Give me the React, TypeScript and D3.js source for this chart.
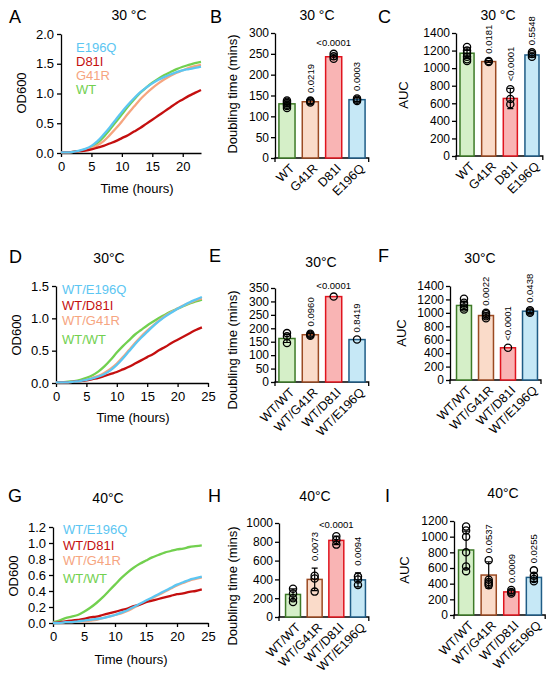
import React, { useEffect, useRef } from 'react';
import * as d3 from 'd3';

const FONT = "'Liberation Sans', Arial, sans-serif";

// ---- growth curves: OD600 read every hour ----
const hoursA = [0, 1, 2, 3, 4, 5, 6, 7, 8, 9, 10, 11, 12, 13, 14, 15, 16, 17, 18, 19, 20, 21, 22, 23];
const hoursDG = [0, 1, 2, 3, 4, 5, 6, 7, 8, 9, 10, 11, 12, 13, 14, 15, 16, 17, 18, 19, 20, 21, 22, 23, 24];

const namesA = ['E196Q', 'D81I', 'G41R', 'WT'];
const namesHet = ['WT/E196Q', 'WT/D81I', 'WT/G41R', 'WT/WT'];
const lineColors = ['#5cc6f2', '#c40f0f', '#f6a57f', '#72d04f'];

const odA_E196Q = [0.01, 0.01, 0.02, 0.04, 0.07, 0.12, 0.2, 0.31, 0.43, 0.56, 0.69, 0.81, 0.92, 1.02, 1.1, 1.17, 1.23, 1.28, 1.32, 1.36, 1.39, 1.41, 1.43, 1.45];
const odA_D81I = [0.01, 0.01, 0.02, 0.03, 0.04, 0.06, 0.09, 0.12, 0.16, 0.2, 0.25, 0.3, 0.36, 0.42, 0.49, 0.56, 0.63, 0.7, 0.77, 0.84, 0.9, 0.96, 1.01, 1.06];
const odA_G41R = [0.01, 0.01, 0.02, 0.03, 0.05, 0.08, 0.13, 0.2, 0.3, 0.41, 0.53, 0.66, 0.78, 0.9, 1.0, 1.09, 1.17, 1.24, 1.3, 1.35, 1.39, 1.43, 1.46, 1.48];
const odA_WT = [0.01, 0.01, 0.02, 0.03, 0.06, 0.1, 0.17, 0.27, 0.39, 0.52, 0.65, 0.78, 0.9, 1.01, 1.1, 1.18, 1.25, 1.31, 1.36, 1.41, 1.45, 1.48, 1.51, 1.53];

const odD_E196Q = [0.01, 0.01, 0.01, 0.02, 0.03, 0.05, 0.07, 0.1, 0.14, 0.2, 0.28, 0.38, 0.49, 0.6, 0.7, 0.79, 0.88, 0.96, 1.03, 1.09, 1.15, 1.2, 1.25, 1.29, 1.33];
const odD_D81I = [0.01, 0.01, 0.01, 0.02, 0.03, 0.04, 0.06, 0.08, 0.11, 0.14, 0.17, 0.21, 0.25, 0.3, 0.35, 0.4, 0.45, 0.51, 0.56, 0.62, 0.67, 0.72, 0.77, 0.82, 0.86];
const odD_G41R = [0.01, 0.01, 0.01, 0.02, 0.03, 0.05, 0.08, 0.11, 0.16, 0.22, 0.3, 0.4, 0.51, 0.62, 0.72, 0.81, 0.89, 0.97, 1.04, 1.1, 1.15, 1.2, 1.24, 1.28, 1.31];
const odD_WT = [0.01, 0.01, 0.02, 0.03, 0.05, 0.08, 0.12, 0.18, 0.26, 0.36, 0.47, 0.57, 0.66, 0.75, 0.82, 0.89, 0.95, 1.01, 1.06, 1.11, 1.15, 1.19, 1.23, 1.26, 1.29];

const odG_E196Q = [0.0, 0.0, 0.01, 0.01, 0.02, 0.03, 0.04, 0.05, 0.06, 0.08, 0.1, 0.13, 0.16, 0.2, 0.24, 0.28, 0.32, 0.36, 0.4, 0.44, 0.48, 0.51, 0.54, 0.56, 0.58];
const odG_D81I = [0.0, 0.01, 0.02, 0.03, 0.04, 0.05, 0.07, 0.08, 0.1, 0.12, 0.14, 0.16, 0.18, 0.21, 0.23, 0.26, 0.28, 0.3, 0.32, 0.34, 0.36, 0.37, 0.39, 0.4, 0.42];
const odG_G41R = [0.0, 0.0, 0.01, 0.01, 0.02, 0.02, 0.03, 0.04, 0.06, 0.08, 0.1, 0.12, 0.15, 0.19, 0.23, 0.27, 0.31, 0.35, 0.39, 0.43, 0.47, 0.5, 0.53, 0.55, 0.57];
const odG_WT = [0.01, 0.03, 0.06, 0.08, 0.1, 0.14, 0.19, 0.25, 0.32, 0.4, 0.48, 0.56, 0.63, 0.69, 0.74, 0.78, 0.82, 0.85, 0.88, 0.9, 0.92, 0.93, 0.95, 0.96, 0.97];

// ---- bar charts: mean, SD, replicates, p-values ----
const catsSingle = ['WT', 'G41R', 'D81I', 'E196Q'];
const catsHet = ['WT/WT', 'WT/G41R', 'WT/D81I', 'WT/E196Q'];
const barFill = ['#d5efc8', '#fadbc9', '#f9b4b4', '#c6e8f6'];
const barStroke = ['#3d7a27', '#9b4a22', '#e0141e', '#1f5c86'];

const meanB = [130, 135, 243, 140];
const sdB = [7, 4, 6, 4];
const ptsB = [[120, 125, 128, 132, 135, 138], [133, 136, 138], [238, 244, 250], [137, 140, 143]];
const pB = ['', '0.0219', '<0.0001', '0.0003'];

const meanC = [1170, 1075, 655, 1150];
const sdC = [60, 10, 115, 25];
const ptsC = [[1240, 1200, 1170, 1130, 1100, 1080], [1070, 1080], [590, 650, 760], [1130, 1160, 1180]];
const pC = ['', '0.0181', '<0.0001', '0.5548'];

const meanE = [162, 176, 318, 158];
const sdE = [15, 5, 0, 0];
const ptsE = [[145, 170, 182], [172, 176, 180], [318], [158]];
const pE = ['', '0.0960', '<0.0001', '0.8419'];

const meanF = [1110, 960, 480, 1025];
const sdF = [60, 40, 0, 20];
const ptsF = [[1050, 1080, 1120, 1150, 1210], [920, 950, 980, 1000], [480], [1000, 1020, 1040]];
const pF = ['', '0.0022', '<0.0001', '0.0438'];

const meanH = [240, 400, 815, 395];
const sdH = [60, 120, 45, 75];
const ptsH = [[160, 200, 250, 300], [270, 410, 440], [770, 820, 860], [340, 400, 430]];
const pH = ['', '0.0073', '<0.0001', '0.0094'];

const meanI = [830, 510, 295, 480];
const sdI = [240, 170, 25, 50];
const ptsI = [[1130, 1080, 1000, 800, 620, 560], [700, 450, 420, 400, 380], [320, 295, 275], [570, 500, 460, 430]];
const pI = ['', '0.0537', '0.0009', '0.0255'];

type Sel = d3.Selection<SVGGElement, unknown, null, undefined>;

interface LineSpec {
  letter: string;
  title: string;
  hours: number[];
  series: number[][];
  names: string[];
  xMax: number;
  yMax: number;
  yStep: number;
  left: number;
  right: number;
  top: number;
  bottom: number;
  letterXY: [number, number];
  titleXY: [number, number];
  legendX: number;
  legendY: number[];
  timeXY: [number, number];
  odXY: [number, number];
}

interface BarSpec {
  letter: string;
  title: string;
  cats: string[];
  mean: number[];
  sd: number[];
  pts: number[][];
  pvals: string[];
  flatIdx: number; // p-value written horizontally
  ylabel: string;
  yMax: number;
  yStep: number;
  axisX: number;
  bandL: number;
  bandR: number;
  pad: number;
  top: number;
  bottom: number;
  letterXY: [number, number];
  titleXY: [number, number];
  ylabelXY: [number, number];
}

function styleAxis(a: Sel, size: number) {
  a.select('.domain').attr('stroke', '#000').attr('stroke-width', 1.3);
  a.selectAll('.tick line').attr('stroke', '#000').attr('stroke-width', 1.3);
  a.selectAll('.tick text').attr('fill', '#000').attr('font-size', size).attr('font-family', FONT);
}

function drawLines(root: Sel, p: LineSpec) {
  const g = root.append('g');
  const x = d3.scaleLinear().domain([0, p.xMax]).range([p.left, p.right]);
  const y = d3.scaleLinear().domain([0, p.yMax]).range([p.bottom, p.top]);

  const xa = g
    .append('g')
    .attr('transform', `translate(0,${p.bottom})`)
    .call(d3.axisBottom(x).tickValues(d3.range(0, p.xMax + 0.01, 5)).tickSize(4).tickSizeOuter(0).tickPadding(5));
  styleAxis(xa, 13);

  const ya = g
    .append('g')
    .attr('transform', `translate(${p.left},0)`)
    .call(
      d3
        .axisLeft(y)
        .tickValues(d3.range(0, p.yMax + 0.001, p.yStep))
        .tickFormat(d3.format('.1f'))
        .tickSize(4)
        .tickSizeOuter(0)
        .tickPadding(3)
    );
  styleAxis(ya, 13);

  const line = d3
    .line<number>()
    .x((_, i) => x(p.hours[i]))
    .y((d) => y(d))
    .curve(d3.curveMonotoneX);

  // draw WT first so the mutants sit on top
  [...p.series.keys()].reverse().forEach((i) => {
    g.append('path')
      .attr('d', line(p.series[i]))
      .attr('fill', 'none')
      .attr('stroke', lineColors[i])
      .attr('stroke-width', 2.3);
  });

  p.names.forEach((n, i) => {
    g.append('text')
      .attr('x', p.legendX)
      .attr('y', p.legendY[i])
      .attr('dy', '0.35em')
      .attr('fill', lineColors[i])
      .attr('font-size', 13)
      .text(n);
  });

  g.append('text').attr('x', p.letterXY[0]).attr('y', p.letterXY[1]).attr('font-size', 18).text(p.letter);
  g.append('text')
    .attr('x', p.titleXY[0])
    .attr('y', p.titleXY[1])
    .attr('text-anchor', 'middle')
    .attr('font-size', 14)
    .text(p.title);
  g.append('text')
    .attr('x', p.timeXY[0])
    .attr('y', p.timeXY[1])
    .attr('text-anchor', 'middle')
    .attr('font-size', 13)
    .text('Time (hours)');
  g.append('text')
    .attr('transform', `translate(${p.odXY[0]},${p.odXY[1]}) rotate(-90)`)
    .attr('text-anchor', 'middle')
    .attr('dy', '0.35em')
    .attr('font-size', 13)
    .text('OD600');
}

function drawBars(root: Sel, p: BarSpec) {
  const g = root.append('g');
  const x = d3.scaleBand<string>().domain(p.cats).range([p.bandL, p.bandR]).paddingInner(p.pad).paddingOuter(p.pad / 2);
  const y = d3.scaleLinear().domain([0, p.yMax]).range([p.bottom, p.top]);
  const bw = x.bandwidth();
  const cx = (c: string) => (x(c) || 0) + bw / 2;

  const ya = g
    .append('g')
    .attr('transform', `translate(${p.axisX},0)`)
    .call(
      d3
        .axisLeft(y)
        .tickValues(d3.range(0, p.yMax + 1, p.yStep))
        .tickFormat(d3.format('d'))
        .tickSize(4)
        .tickSizeOuter(0)
        .tickPadding(2)
    );
  styleAxis(ya, 12);

  // x axis baseline with end ticks
  g.append('path')
    .attr('d', `M${p.axisX},${p.bottom + 4}V${p.bottom}H${p.bandR}V${p.bottom + 4}`)
    .attr('fill', 'none')
    .attr('stroke', '#000')
    .attr('stroke-width', 1.3);

  p.cats.forEach((c, i) => {
    const m = p.mean[i];
    g.append('rect')
      .attr('x', x(c) || 0)
      .attr('y', y(m))
      .attr('width', bw)
      .attr('height', y(0) - y(m))
      .attr('fill', barFill[i])
      .attr('stroke', barStroke[i])
      .attr('stroke-width', 1.5);

    if (p.sd[i] > 0) {
      const lo = y(m - p.sd[i]);
      const hi = y(m + p.sd[i]);
      g.append('path')
        .attr('d', `M${cx(c)},${lo}V${hi}M${cx(c) - 3},${hi}H${cx(c) + 3}M${cx(c) - 3},${lo}H${cx(c) + 3}`)
        .attr('stroke', '#000')
        .attr('stroke-width', 1.2)
        .attr('fill', 'none');
    }

    p.pts[i].forEach((v) => {
      g.append('circle')
        .attr('cx', cx(c))
        .attr('cy', y(v))
        .attr('r', 3.6)
        .attr('fill', 'none')
        .attr('stroke', '#000')
        .attr('stroke-width', 1.3);
    });

    const topV = Math.max(m + p.sd[i], d3.max(p.pts[i]) || m);
    if (p.pvals[i]) {
      if (i === p.flatIdx) {
        g.append('text')
          .attr('x', cx(c))
          .attr('y', y(topV) - 8)
          .attr('text-anchor', 'middle')
          .attr('font-size', 9.5)
          .text(p.pvals[i]);
      } else {
        g.append('text')
          .attr('transform', `translate(${cx(c)},${y(topV) - 7}) rotate(-90)`)
          .attr('dy', '0.35em')
          .attr('font-size', 9.5)
          .text(p.pvals[i]);
      }
    }

    g.append('text')
      .attr('transform', `translate(${cx(c) + 5},${p.bottom + 8}) rotate(-45)`)
      .attr('text-anchor', 'end')
      .attr('dy', '0.35em')
      .attr('font-size', 12.5)
      .text(c);
  });

  g.append('text').attr('x', p.letterXY[0]).attr('y', p.letterXY[1]).attr('font-size', 18).text(p.letter);
  g.append('text')
    .attr('x', p.titleXY[0])
    .attr('y', p.titleXY[1])
    .attr('text-anchor', 'middle')
    .attr('font-size', 14)
    .text(p.title);
  g.append('text')
    .attr('transform', `translate(${p.ylabelXY[0]},${p.ylabelXY[1]}) rotate(-90)`)
    .attr('text-anchor', 'middle')
    .attr('dy', '0.35em')
    .attr('font-size', 13)
    .text(p.ylabel);
}

const App: React.FC = () => {
  const ref = useRef<SVGSVGElement | null>(null);

  useEffect(() => {
    if (!ref.current) return;
    const svg = d3.select(ref.current);
    svg.selectAll('*').remove();
    const root = svg.append('g').attr('font-family', FONT) as unknown as Sel;

    drawLines(root, {
      letter: 'A', title: '30 °C', hours: hoursA,
      series: [odA_E196Q, odA_D81I, odA_G41R, odA_WT], names: namesA,
      xMax: 23, yMax: 2, yStep: 0.5,
      left: 61, right: 201, top: 34, bottom: 153,
      letterXY: [9, 23], titleXY: [129, 20], legendX: 76, legendY: [47, 61, 75, 89],
      timeXY: [137, 193], odXY: [21, 93],
    });
    drawLines(root, {
      letter: 'D', title: '30°C', hours: hoursDG,
      series: [odD_E196Q, odD_D81I, odD_G41R, odD_WT], names: namesHet,
      xMax: 25, yMax: 1.5, yStep: 0.5,
      left: 56, right: 208, top: 286, bottom: 383,
      letterXY: [9, 263], titleXY: [109, 263], legendX: 62, legendY: [289, 305, 320, 339],
      timeXY: [133, 422], odXY: [16, 335],
    });
    drawLines(root, {
      letter: 'G', title: '40°C', hours: hoursDG,
      series: [odG_E196Q, odG_D81I, odG_G41R, odG_WT], names: namesHet,
      xMax: 25, yMax: 1.2, yStep: 0.2,
      left: 53, right: 208, top: 527, bottom: 623,
      letterXY: [8, 502], titleXY: [108, 503], legendX: 63, legendY: [529, 545, 560, 578],
      timeXY: [131, 664], odXY: [13, 576],
    });

    drawBars(root, {
      letter: 'B', title: '30 °C', cats: catsSingle, mean: meanB, sd: sdB, pts: ptsB, pvals: pB, flatIdx: 2,
      ylabel: 'Doubling time (mins)', yMax: 300, yStep: 50,
      axisX: 275, bandL: 275.3, bandR: 368.7, pad: 0.31, top: 33, bottom: 158,
      letterXY: [210, 23], titleXY: [317, 20], ylabelXY: [232, 94],
    });
    drawBars(root, {
      letter: 'C', title: '30 °C', cats: catsSingle, mean: meanC, sd: sdC, pts: ptsC, pvals: pC, flatIdx: -1,
      ylabel: 'AUC', yMax: 1400, yStep: 200,
      axisX: 456, bandL: 456.2, bandR: 542.8, pad: 0.35, top: 33, bottom: 156,
      letterXY: [378, 23], titleXY: [498, 20], ylabelXY: [403, 95],
    });
    drawBars(root, {
      letter: 'E', title: '30°C', cats: catsHet, mean: meanE, sd: sdE, pts: ptsE, pvals: pE, flatIdx: 2,
      ylabel: 'Doubling time (mins)', yMax: 350, yStep: 50,
      axisX: 275, bandL: 275.3, bandR: 368.7, pad: 0.31, top: 288, bottom: 382,
      letterXY: [209, 262], titleXY: [321, 267], ylabelXY: [232, 350],
    });
    drawBars(root, {
      letter: 'F', title: '30°C', cats: catsHet, mean: meanF, sd: sdF, pts: ptsF, pvals: pF, flatIdx: -1,
      ylabel: 'AUC', yMax: 1400, yStep: 200,
      axisX: 450, bandL: 453, bandR: 541, pad: 0.32, top: 286, bottom: 380,
      letterXY: [378, 262], titleXY: [480, 263], ylabelXY: [401, 333],
    });
    drawBars(root, {
      letter: 'H', title: '40°C', cats: catsHet, mean: meanH, sd: sdH, pts: ptsH, pvals: pH, flatIdx: 2,
      ylabel: 'Doubling time (mins)', yMax: 1000, yStep: 200,
      axisX: 279, bandL: 282.2, bandR: 368.8, pad: 0.31, top: 523, bottom: 617,
      letterXY: [208, 502], titleXY: [315, 501], ylabelXY: [232, 586],
    });
    drawBars(root, {
      letter: 'I', title: '40°C', cats: catsHet, mean: meanI, sd: sdI, pts: ptsI, pvals: pI, flatIdx: -1,
      ylabel: 'AUC', yMax: 1200, yStep: 200,
      axisX: 454, bandL: 454.8, bandR: 545.2, pad: 0.33, top: 521, bottom: 615,
      letterXY: [385, 502], titleXY: [503, 498], ylabelXY: [404, 570],
    });
  }, []);

  return (
    <svg
      ref={ref}
      width={550}
      height={683}
      style={{ position: 'absolute', left: 0, top: 0, background: '#fff' }}
    />
  );
};

export default App;
